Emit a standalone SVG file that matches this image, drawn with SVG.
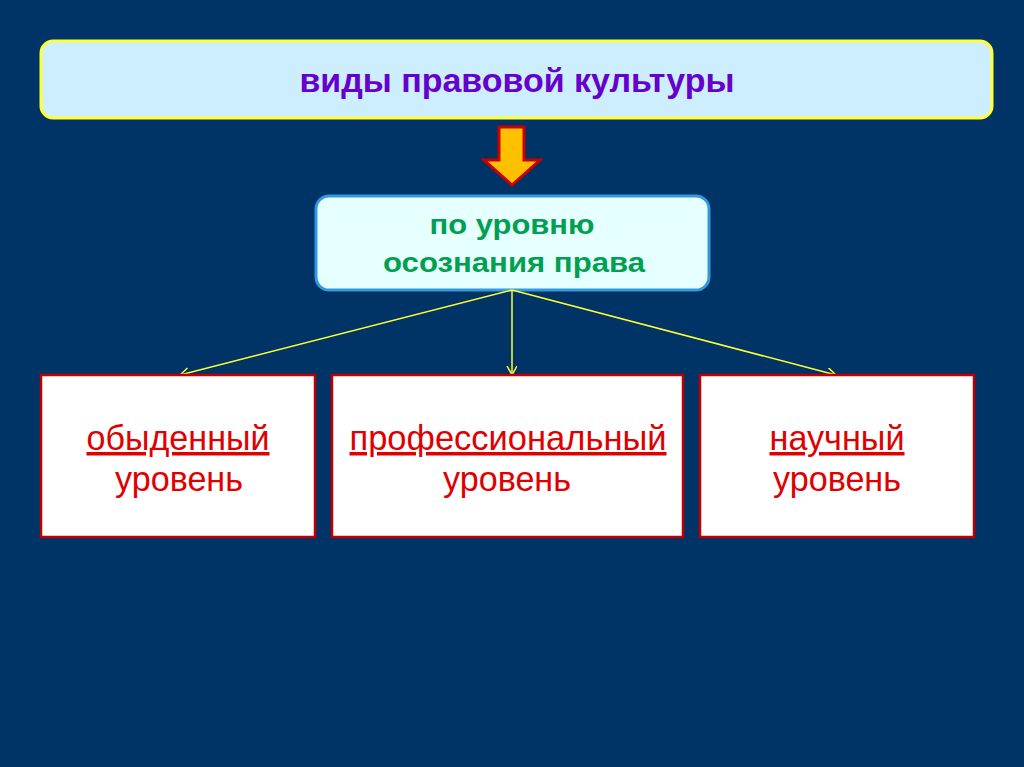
<svg xmlns="http://www.w3.org/2000/svg" width="1024" height="767" viewBox="0 0 1024 767">
<defs>
<style>
.bg{fill:#003366}
.lvl{fill:#ffffff;stroke:#c00000;stroke-width:2.5}
.lt{font-family:"Liberation Sans Narrow","Liberation Sans",sans-serif;font-size:35px;fill:#e00000;text-anchor:middle}
.u{text-decoration:underline}
.conn{stroke:#ffff33;stroke-width:1.5;fill:none;marker-end:url(#ah)}
</style>
<marker id="ah" markerWidth="12" markerHeight="12" refX="10" refY="5" orient="auto" markerUnits="userSpaceOnUse">
<path d="M1,0 L10,5 L1,10" fill="none" stroke="#ffff33" stroke-width="1.5"/>
</marker>
</defs>
<rect class="bg" x="0" y="0" width="1024" height="767"/>
<g id="title">
<rect x="41" y="41" width="951" height="77" rx="12" fill="#cceeff" stroke="#ffff33" stroke-width="3"/>
<text x="517" y="92" font-family="Liberation Sans Narrow,Liberation Sans,sans-serif" font-weight="bold" font-size="33" fill="#6600cc" text-anchor="middle" textLength="435" lengthAdjust="spacingAndGlyphs">виды правовой культуры</text>
</g>
<g id="bigarrow">
<path d="M499,127 L524,127 L524,160 L540,160 L512,185 L484,160 L499,160 Z" fill="#ffc000" stroke="#cc0000" stroke-width="3" stroke-linejoin="miter"/>
</g>
<g id="criterion">
<rect x="316" y="196" width="393" height="94" rx="13" fill="#e6ffff" stroke="#3399dd" stroke-width="3"/>
<text x="512" y="234" font-family="Liberation Sans,sans-serif" font-weight="bold" font-size="28" fill="#00a050" text-anchor="middle" textLength="165" lengthAdjust="spacingAndGlyphs">по уровню</text>
<text x="514" y="272" font-family="Liberation Sans,sans-serif" font-weight="bold" font-size="28" fill="#00a050" text-anchor="middle" textLength="262" lengthAdjust="spacingAndGlyphs">осознания права</text>
</g>
<g id="connectors">
<line class="conn" x1="512" y1="290" x2="180" y2="375"/>
<line class="conn" x1="512" y1="290" x2="512" y2="375"/>
<line class="conn" x1="512" y1="290" x2="836" y2="375"/>
</g>
<g id="everyday">
<rect class="lvl" x="41" y="375" width="274" height="162"/>
<text class="lt u" x="178" y="450" textLength="183" lengthAdjust="spacingAndGlyphs">обыденный</text>
<text class="lt" x="179" y="491" textLength="128" lengthAdjust="spacingAndGlyphs">уровень</text>
</g>
<g id="professional">
<rect class="lvl" x="332" y="375" width="351" height="162"/>
<text class="lt u" x="508" y="450" textLength="317" lengthAdjust="spacingAndGlyphs">профессиональный</text>
<text class="lt" x="507" y="491" textLength="128" lengthAdjust="spacingAndGlyphs">уровень</text>
</g>
<g id="scientific">
<rect class="lvl" x="700" y="375" width="274" height="162"/>
<text class="lt u" x="837" y="450" textLength="135" lengthAdjust="spacingAndGlyphs">научный</text>
<text class="lt" x="837" y="491" textLength="128" lengthAdjust="spacingAndGlyphs">уровень</text>
</g>
</svg>
